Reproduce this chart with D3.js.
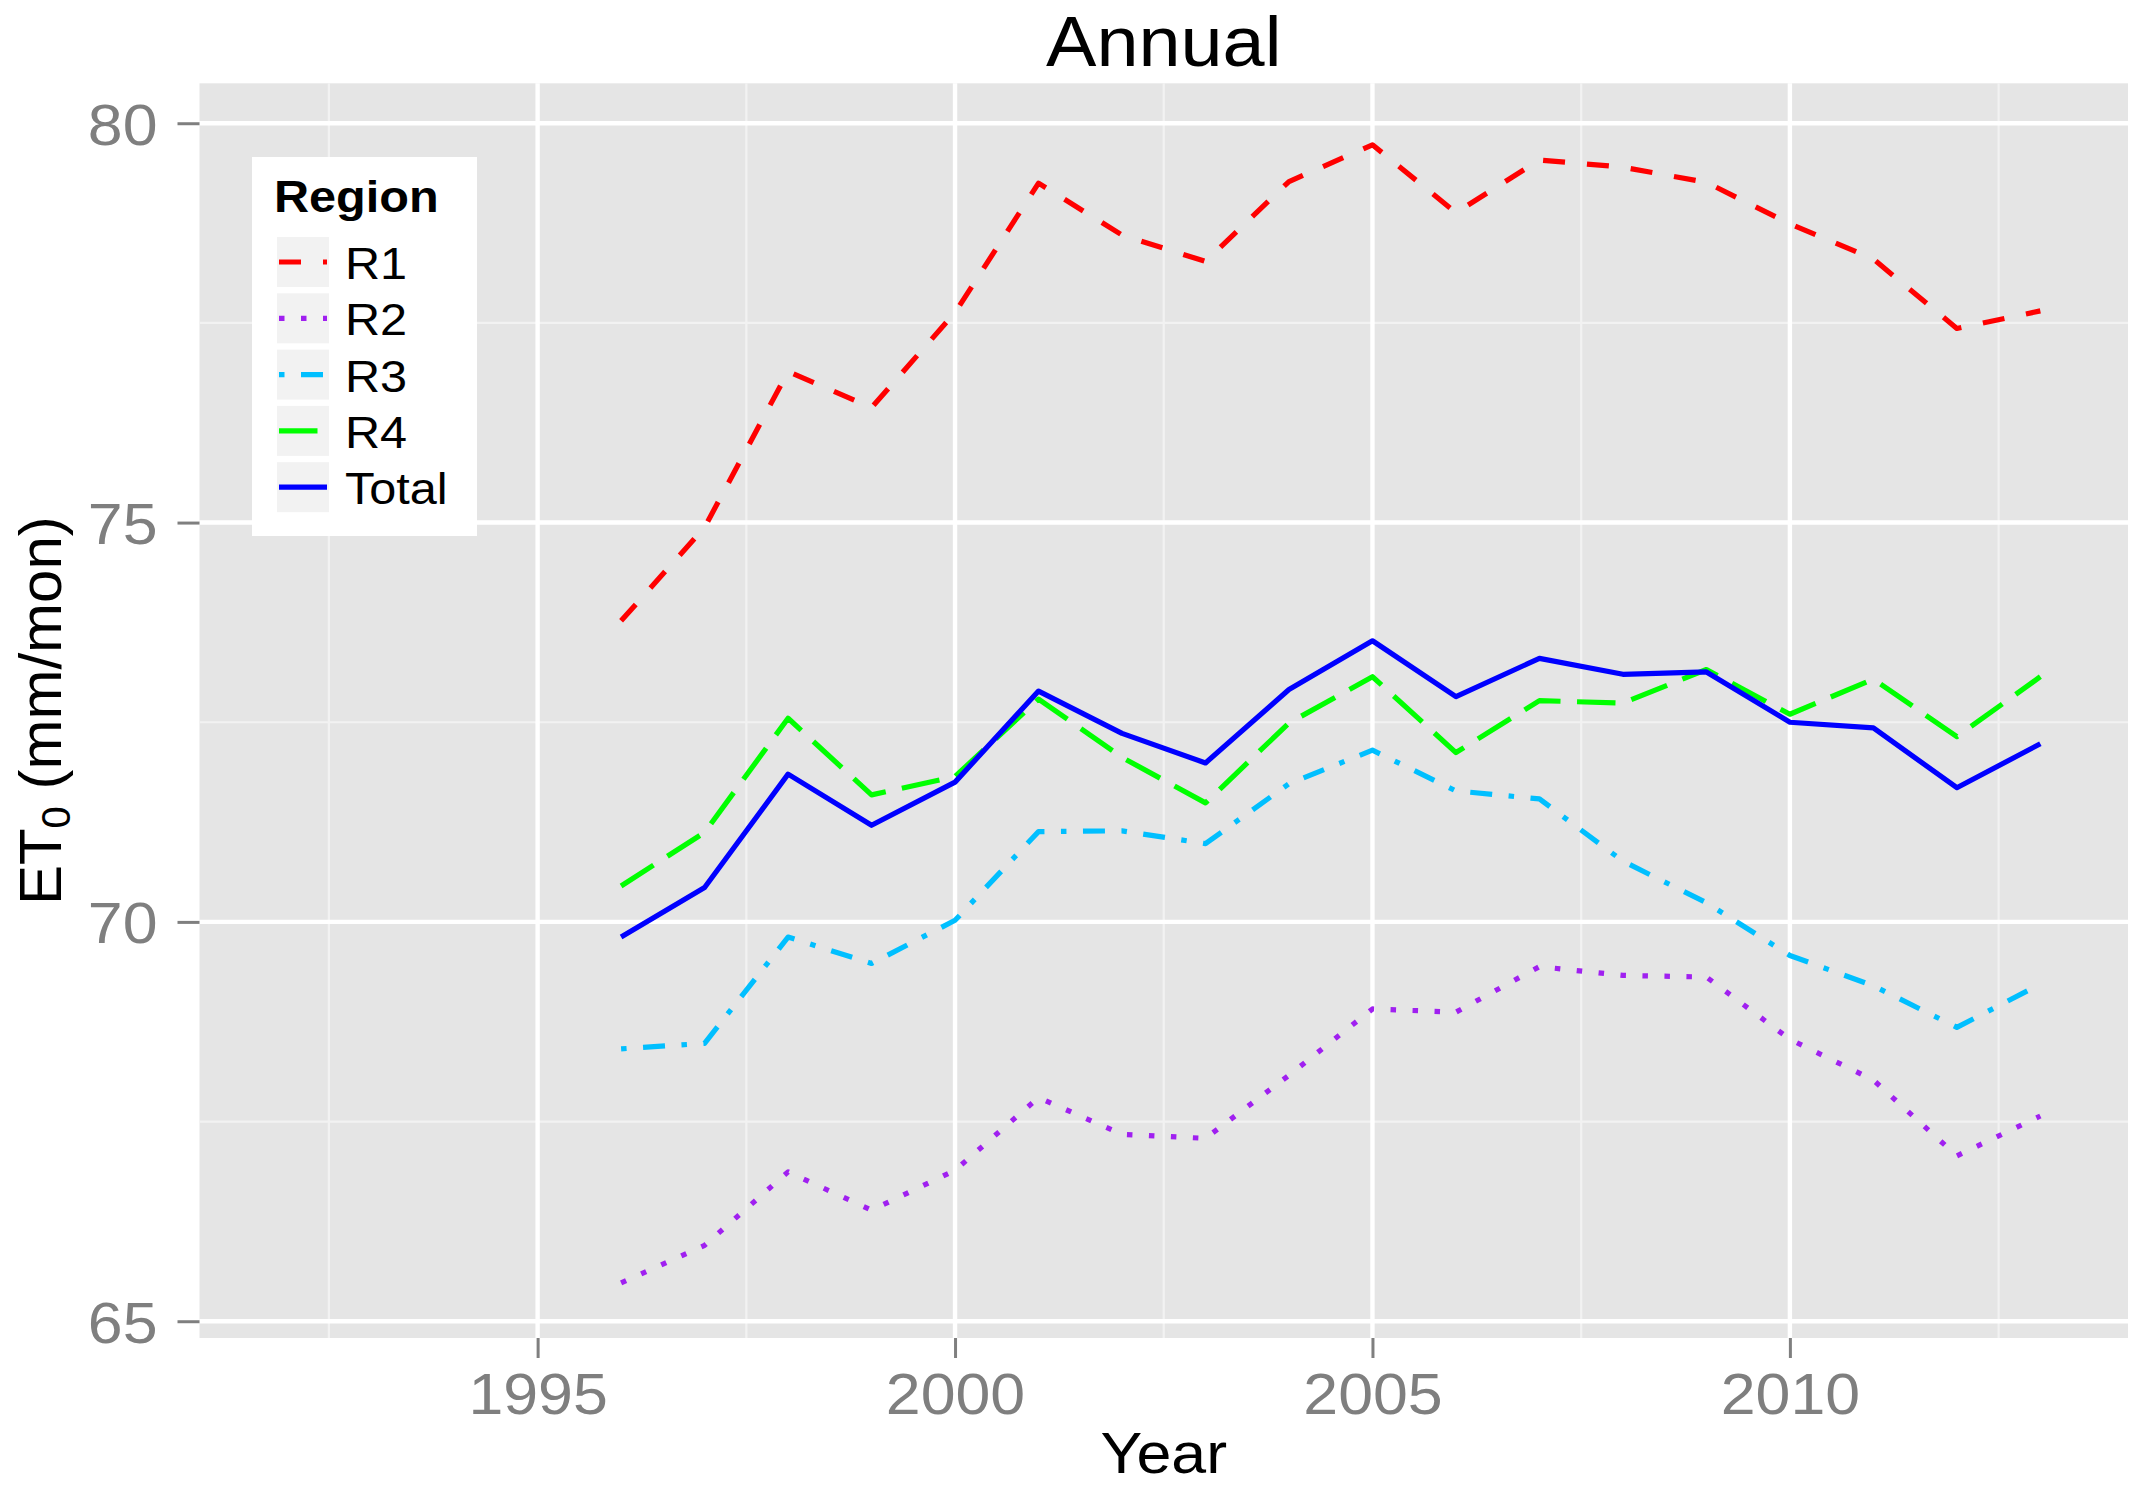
<!DOCTYPE html>
<html>
<head>
<meta charset="utf-8">
<title>Annual</title>
<script src="https://cdn.jsdelivr.net/npm/d3@7"></script>
<style>
    body { margin: 0; background: #fff; }
    svg { display: block; font-family: "Liberation Sans", Arial, Helvetica, sans-serif; }
</style>
</head>
<body>
<div id="chart"></div>
<script>
// values
var years = [1996, 1997, 1998, 1999, 2000, 2001, 2002, 2003, 2004,
             2005, 2006, 2007, 2008, 2009, 2010, 2011, 2012, 2013];
var r1 = [73.77, 74.94, 76.89, 76.44, 77.63, 79.25, 78.60, 78.27, 79.27,
          79.73, 78.88, 79.54, 79.45, 79.26, 78.74, 78.30, 77.43, 77.65];
var r2 = [65.48, 65.95, 66.87, 66.39, 66.89, 67.80, 67.34, 67.29, 68.08,
          68.91, 68.87, 69.44, 69.33, 69.31, 68.53, 68.02, 67.07, 67.57];
var r3 = [68.41, 68.48, 69.81, 69.48, 70.02, 71.13, 71.14, 70.98, 71.73,
          72.15, 71.64, 71.54, 70.76, 70.24, 69.58, 69.20, 68.68, 69.22];
var r4 = [70.45, 71.12, 72.55, 71.59, 71.82, 72.79, 72.06, 71.49, 72.49,
          73.07, 72.12, 72.77, 72.74, 73.16, 72.60, 73.04, 72.32, 73.07];
var total = [69.81, 70.43, 71.85, 71.21, 71.75, 72.89, 72.36, 71.99, 72.91,
             73.52, 72.82, 73.30, 73.10, 73.13, 72.50, 72.43, 71.68, 72.23];

var regions = ["R1", "R2", "R3", "R4", "Total"];
var xTicks = [1995, 2000, 2005, 2010];
var xMinor = [1992.5, 1997.5, 2002.5, 2007.5, 2012.5];
var yTicks = [65, 70, 75, 80];
var yMinor = [67.5, 72.5, 77.5];

// the reference glyphs are a little wider than Liberation Sans
var WIDE = 1.08;

class AnnualChart {

    constructor(el, props) {
        this.el = el;
        this.props = props;
        this.series = [r1, r2, r3, r4, total];
    }

    create() {
        const {width, height, margin} = this.props;
        this.svg = d3.select(this.el).append("svg")
            .attr("width", width)
            .attr("height", height);

        this.x = d3.scaleLinear()
            .domain([1990.95, 2014.05])
            .range([margin.left, width - margin.right]);
        this.y = d3.scaleLinear()
            .domain([64.79, 80.5])
            .range([height - margin.bottom, margin.top]);

        this.drawPanel();
        this.drawAxes();
        this.drawLines();
        this.drawLegend();
        this.drawTitles();
    }

    drawPanel() {
        const x = this.x, y = this.y;
        const [x0, x1] = x.range(), [y1, y0] = y.range();
        const g = this.svg.append("g").attr("class", "panel");

        g.append("rect")
            .attr("x", x0).attr("y", y0)
            .attr("width", x1 - x0).attr("height", y1 - y0)
            .attr("fill", "#e5e5e5");

        // minor grid first, major on top
        g.selectAll("line.xminor").data(xMinor).enter().append("line")
            .attr("x1", d => x(d)).attr("x2", d => x(d))
            .attr("y1", y0).attr("y2", y1)
            .attr("stroke", "#f2f2f2").attr("stroke-width", 2.2);
        g.selectAll("line.yminor").data(yMinor).enter().append("line")
            .attr("y1", d => y(d)).attr("y2", d => y(d))
            .attr("x1", x0).attr("x2", x1)
            .attr("stroke", "#f2f2f2").attr("stroke-width", 2.2);
        g.selectAll("line.xmajor").data(xTicks).enter().append("line")
            .attr("x1", d => x(d)).attr("x2", d => x(d))
            .attr("y1", y0).attr("y2", y1)
            .attr("stroke", "#fff").attr("stroke-width", 4.4);
        g.selectAll("line.ymajor").data(yTicks).enter().append("line")
            .attr("y1", d => y(d)).attr("y2", d => y(d))
            .attr("x1", x0).attr("x2", x1)
            .attr("stroke", "#fff").attr("stroke-width", 4.4);
    }

    drawAxes() {
        const {height, margin} = this.props;

        const yAxis = this.svg.append("g")
            .attr("transform", "translate(" + margin.left + ",0)")
            .call(d3.axisLeft(this.y).tickValues(yTicks).tickSize(22).tickPadding(20));
        const xAxis = this.svg.append("g")
            .attr("transform", "translate(0," + (height - margin.bottom) + ")")
            .call(d3.axisBottom(this.x).tickValues(xTicks).tickFormat(d3.format("d"))
                .tickSize(20).tickPadding(15));

        [xAxis, yAxis].forEach(function(a) {
            a.select(".domain").remove();
            a.selectAll(".tick line").attr("stroke", "#7f7f7f").attr("stroke-width", 3);
            a.selectAll(".tick text")
                .attr("fill", "#7f7f7f")
                .attr("transform", "scale(" + WIDE + ",1)")
                .style("font-family", "inherit")
                .style("font-size", "58px");
        });
        yAxis.selectAll(".tick text")
            .attr("x", -42 / WIDE)
            .attr("dy", "0.36em");
    }

    drawLines() {
        const x = this.x, y = this.y;
        const styles = this.props.styles;
        const line = d3.line()
            .x((d, i) => x(years[i]))
            .y(d => y(d));

        this.svg.append("g").attr("class", "lines")
            .selectAll("path")
            .data(this.series)
            .enter().append("path")
            .attr("d", line)
            .attr("fill", "none")
            .attr("stroke", (d, i) => styles[i].color)
            .attr("stroke-width", 5.2)
            .attr("stroke-dasharray", (d, i) => styles[i].dash)
            .attr("stroke-linejoin", "round");
    }

    drawLegend() {
        const styles = this.props.styles;
        const lg = this.svg.append("g").attr("class", "legend");

        lg.append("rect")
            .attr("x", 252).attr("y", 157)
            .attr("width", 225).attr("height", 379)
            .attr("fill", "#fff");

        lg.append("text")
            .attr("transform", "translate(274,212) scale(" + WIDE + ",1)")
            .style("font-size", "45px")
            .style("font-weight", "bold")
            .text("Region");

        const rows = lg.selectAll("g.key")
            .data(regions)
            .enter().append("g")
            .attr("transform", (d, i) => "translate(277," + (237 + i * 56.3) + ")");

        rows.append("rect")
            .attr("width", 52).attr("height", 50)
            .attr("fill", "#f2f2f2");
        rows.append("line")
            .attr("x1", 2).attr("x2", 50)
            .attr("y1", 25).attr("y2", 25)
            .attr("stroke", (d, i) => styles[i].color)
            .attr("stroke-width", 5.2)
            .attr("stroke-dasharray", (d, i) => styles[i].dash);
        rows.append("text")
            .attr("transform", "translate(68,42) scale(" + WIDE + ",1)")
            .style("font-size", "45px")
            .text(d => d);
    }

    drawTitles() {
        const cx = (this.x.range()[0] + this.x.range()[1]) / 2;
        const cy = (this.y.range()[0] + this.y.range()[1]) / 2;

        this.svg.append("text")
            .attr("transform", "translate(" + cx + ",66) scale(" + WIDE + ",1)")
            .attr("text-anchor", "middle")
            .style("font-size", "70px")
            .text("Annual");

        this.svg.append("text")
            .attr("transform", "translate(" + cx + ",1473) scale(" + WIDE + ",1)")
            .attr("text-anchor", "middle")
            .style("font-size", "58px")
            .text("Year");

        const yl = this.svg.append("text")
            .attr("transform", "translate(61," + cy + ") rotate(-90)")
            .attr("text-anchor", "middle")
            .style("font-size", "60px");
        yl.append("tspan").text("ET");
        yl.append("tspan").attr("dy", 9).style("font-size", "40px").text("0");
        yl.append("tspan").attr("dy", -9).text(" (mm/mon)");
    }
}

const chart = new AnnualChart(document.getElementById("chart"), {
    width: 2153,
    height: 1510,
    margin: {top: 83.3, right: 25, bottom: 172, left: 199.5},
    styles: [
        {color: "#ff0000", dash: "22,22"},
        {color: "#a020f0", dash: "5.5,16.5"},
        {color: "#00bfff", dash: "5.5,16.5,22,16.5"},
        {color: "#00ff00", dash: "38.5,16.5"},
        {color: "#0000ff", dash: null}
    ]
});
chart.create();
</script>
</body>
</html>
